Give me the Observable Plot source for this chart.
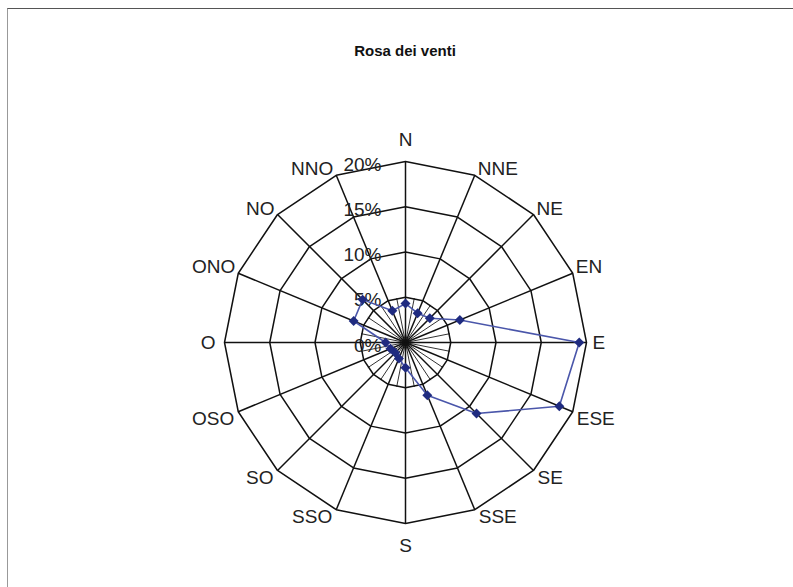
<!DOCTYPE html>
<html><head><meta charset="utf-8">
<script src="https://cdn.jsdelivr.net/npm/d3@7"></script>
<script src="https://cdn.jsdelivr.net/npm/@observablehq/plot@0.6"></script>
<style>
body{margin:0;background:#fff;font-family:"Liberation Sans",Arial,sans-serif;}
#wrap{position:relative;width:793px;height:587px;overflow:hidden;background:#fff;}
#frame{position:absolute;left:7px;top:8px;width:800px;height:600px;border-top:1.5px solid #555;border-left:1.5px solid #999;}
#title{position:absolute;top:42px;left:0;width:810px;text-align:center;font-weight:bold;font-size:15px;color:#111;}
#chart{position:absolute;left:0;top:0;}
</style></head><body>
<div id="wrap"><div id="frame"></div><div id="title">Rosa dei venti</div><div id="chart"></div></div>
<script>
// Data
const directions = ["N","NNE","NE","EN","E","ESE","SE","SSE","S","SSO","SO","OSO","O","ONO","NO","NNO"];
const frequencies = [4.3,3.5,3.8,6.5,19.2,18.4,11.1,6.3,2.8,1.9,1.6,1.8,2.2,6.2,6.7,3.8];
const ringValues = [5,10,15,20];
const tickValues = [0,5,10,15,20];
const tickLabels = ["0%","5%","10%","15%","20%"];

const n = directions.length;
const maxR = 20;
const ang = i => i * 2 * Math.PI / n;
const px = (i, r) => r * Math.sin(ang(i));
const py = (i, r) => r * Math.cos(ang(i));

// ring polygons
const ringPts = [];
for (const r of ringValues) for (let i = 0; i <= n; i++) ringPts.push({ring: r, i});
// closed data polygon
const dataPts = d3.range(n + 1).map(k => ({i: k % n, v: frequencies[k % n]}));
const idx = d3.range(n);
const halfIdx = d3.range(n).map(i => i + 0.5);

const k = 181 / maxR; // pixels per percent
const cx = 405, cy = 342, W = 793, H = 587;

const lab = (filter, opts) => Plot.text(idx.filter(filter), {
  x: i => px(i, maxR), y: i => py(i, maxR), text: i => directions[i],
  fontSize: 19, fill: "#222", ...opts
});
const s = i => Math.round(Math.sin(ang(i)) * 1000) / 1000;
const c = i => Math.round(Math.cos(ang(i)) * 1000) / 1000;

const chart = Plot.plot({
  width: W, height: H, margin: 0,
  style: {fontFamily: "'Liberation Sans', Arial, sans-serif", background: "transparent"},
  x: {domain: [-cx / k, (W - cx) / k], range: [0, W], axis: null},
  y: {domain: [-(H - cy) / k, cy / k], range: [H, 0], axis: null},
  marks: [
    Plot.link(halfIdx, {x1: () => 0, y1: () => 0, x2: i => px(i, 5), y2: i => py(i, 5), stroke: "#333", strokeWidth: 1}),
    Plot.link(idx, {x1: () => 0, y1: () => 0, x2: i => px(i, maxR), y2: i => py(i, maxR), stroke: "#111", strokeWidth: 1.5}),
    Plot.line(ringPts, {x: d => px(d.i, d.ring), y: d => py(d.i, d.ring), z: "ring", stroke: "#111", strokeWidth: 1.5}),
    Plot.text(tickValues, {x: () => 0, y: v => v, text: (v, j) => tickLabels[j], textAnchor: "end", dx: -24, dy: 3, fontSize: 19, fill: "#222"}),
    Plot.line(dataPts, {x: d => px(d.i, d.v), y: d => py(d.i, d.v), stroke: "#4a56aa", strokeWidth: 1.6}),
    Plot.dot(idx, {x: i => px(i, frequencies[i]), y: i => py(i, frequencies[i]), symbol: "diamond2", r: 4.5, fill: "#1f2b80", stroke: "none"}),
    lab(i => s(i) === 0 && c(i) > 0, {textAnchor: "middle", dy: -22}),
    lab(i => s(i) === 0 && c(i) < 0, {textAnchor: "middle", dy: 22}),
    lab(i => s(i) > 0 && c(i) > 0, {textAnchor: "start", dx: 3, dy: -6}),
    lab(i => s(i) > 0 && c(i) === 0, {textAnchor: "start", dx: 6}),
    lab(i => s(i) > 0 && c(i) < 0, {textAnchor: "start", dx: 4, dy: 7}),
    lab(i => s(i) < 0 && c(i) > 0, {textAnchor: "end", dx: -3, dy: -6}),
    lab(i => s(i) < 0 && c(i) === 0, {textAnchor: "end", dx: -9}),
    lab(i => s(i) < 0 && c(i) < 0, {textAnchor: "end", dx: -4, dy: 7})
  ]
});
document.getElementById("chart").appendChild(chart);
</script>
</body></html>
